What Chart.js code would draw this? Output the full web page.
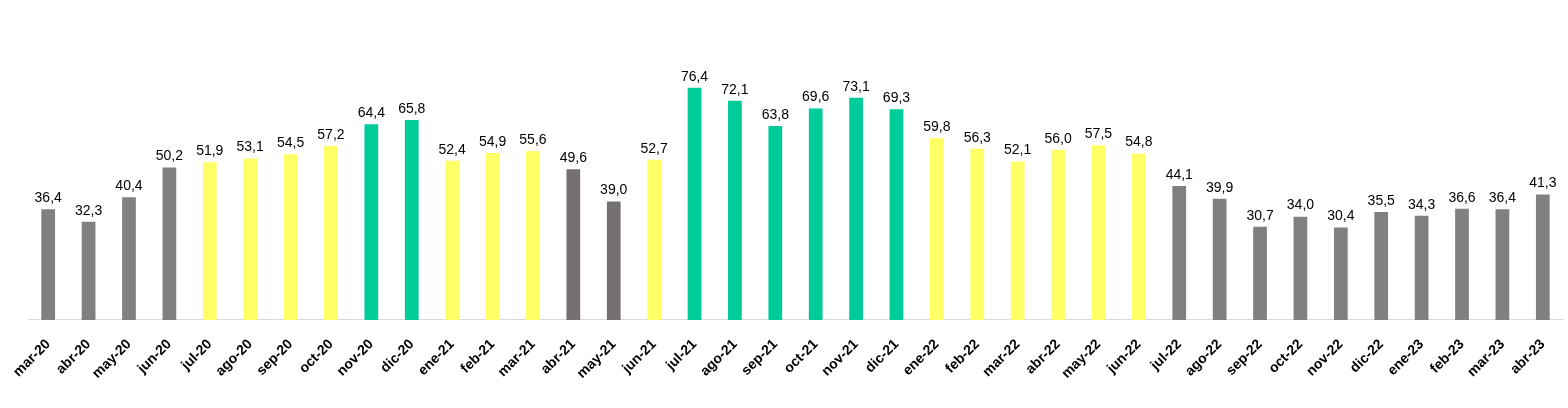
<!DOCTYPE html>
<html>
<head>
<meta charset="utf-8">
<script src="https://cdn.jsdelivr.net/npm/chart.js@4/dist/chart.umd.min.js"></script>
<style>
  html, body { margin: 0; padding: 0; background: #fff; }
  #wrap { width: 1568px; height: 408px; position: relative; }
</style>
</head>
<body>
<div id="wrap"><canvas id="chart"></canvas></div>
<script>
// Months shown on the x axis
const months = [
  'mar-20', 'abr-20', 'may-20', 'jun-20', 'jul-20', 'ago-20', 'sep-20', 'oct-20', 'nov-20', 'dic-20',
  'ene-21', 'feb-21', 'mar-21', 'abr-21', 'may-21', 'jun-21', 'jul-21', 'ago-21', 'sep-21', 'oct-21',
  'nov-21', 'dic-21', 'ene-22', 'feb-22', 'mar-22', 'abr-22', 'may-22', 'jun-22', 'jul-22', 'ago-22',
  'sep-22', 'oct-22', 'nov-22', 'dic-22', 'ene-23', 'feb-23', 'mar-23', 'abr-23'
];

// Monthly values
const values = [
  36.4, 32.3, 40.4, 50.2, 51.9, 53.1, 54.5, 57.2, 64.4, 65.8,
  52.4, 54.9, 55.6, 49.6, 39.0, 52.7, 76.4, 72.1, 63.8, 69.6,
  73.1, 69.3, 59.8, 56.3, 52.1, 56.0, 57.5, 54.8, 44.1, 39.9,
  30.7, 34.0, 30.4, 35.5, 34.3, 36.6, 36.4, 41.3
];

// Colour group of each bar: g = gray, d = dark gray, y = yellow, v = green
const groups = [
  'g', 'g', 'g', 'g', 'y', 'y', 'y', 'y', 'v', 'v',
  'y', 'y', 'y', 'd', 'd', 'y', 'v', 'v', 'v', 'v',
  'v', 'v', 'y', 'y', 'y', 'y', 'y', 'y', 'g', 'g',
  'g', 'g', 'g', 'g', 'g', 'g', 'g', 'g'
];

const palette = { g: '#808080', d: '#767171', y: '#FFFF66', v: '#00CC99' };

// value labels above bars, comma decimals
const valueLabels = {
  id: 'valueLabels',
  afterDatasetsDraw(chart) {
    const ctx = chart.ctx;
    const meta = chart.getDatasetMeta(0);
    ctx.save();
    ctx.font = '14px "Liberation Sans", Arial, sans-serif';
    ctx.fillStyle = '#000';
    ctx.textAlign = 'center';
    ctx.textBaseline = 'bottom';
    meta.data.forEach((bar, i) => {
      const txt = values[i].toFixed(1).replace('.', ',');
      ctx.fillText(txt, bar.x, bar.y - 4);
    });
    ctx.restore();
  }
};

const ctx = document.getElementById('chart').getContext('2d');
new Chart(ctx, {
  type: 'bar',
  data: {
    labels: months,
    datasets: [{
      data: values,
      backgroundColor: groups.map(g => palette[g]),
      borderWidth: 0,
      barPercentage: 0.68,
      categoryPercentage: 0.5
    }]
  },
  options: {
    responsive: true,
    maintainAspectRatio: false,
    animation: false,
    layout: { padding: { top: 16, left: 28, right: 5, bottom: 18 } },
    plugins: {
      legend: { display: false },
      tooltip: { enabled: false }
    },
    scales: {
      y: {
        display: false,
        min: 0,
        max: 100
      },
      x: {
        grid: { display: false },
        border: { display: true, color: '#D9D9D9', width: 1 },
        ticks: {
          color: '#000',
          font: { family: '"Liberation Sans", Arial, sans-serif', size: 14, weight: 'bold' },
          maxRotation: 45,
          minRotation: 45,
          autoSkip: false,
          padding: 8
        }
      }
    }
  },
  plugins: [valueLabels]
});
</script>
</body>
</html>
